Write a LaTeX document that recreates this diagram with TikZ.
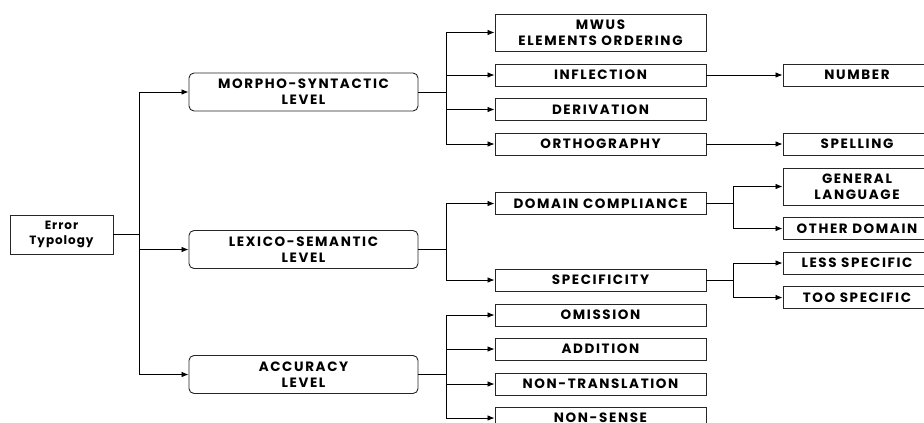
\documentclass[tikz,border=0pt]{standalone}
\usepackage{fontspec}
\setmainfont{Poppins}
\newfontfamily\capsfont{Poppins}[LetterSpace=12]
\newfontfamily\rootfont{Poppins}[LetterSpace=8]
\usetikzlibrary{arrows.meta}
\tikzset{
  box/.style={draw=black!85, line width=0.9pt, fill=white, align=center, inner sep=0pt},
  lvlbox/.style={box, rounded corners=5pt, minimum width=229pt, minimum height=38pt, font=\capsfont\bfseries\fontsize{13.5}{16}\selectfont},
  subbox/.style={box, minimum width=211pt, minimum height=22pt, font=\capsfont\bfseries\fontsize{13.5}{16}\selectfont},
  leafbox/.style={box, minimum width=148pt, minimum height=22pt, font=\capsfont\bfseries\fontsize{13.5}{16}\selectfont},
  rootbox/.style={box, minimum width=103pt, minimum height=39pt, font=\rootfont\bfseries\fontsize{12}{15}\selectfont},
  conn/.style={line width=0.8pt, -{Latex[length=7pt,width=5.5pt]}},
  plain/.style={line width=0.8pt}
}
\begin{document}
\begin{tikzpicture}[x=1pt,y=-1pt]
\useasboundingbox (0,0) rectangle (924,423);
\clip (0,0) rectangle (924,423);
% root
\node[rootbox] (err) at (61.5,234.5) {Error\\Typology};
% levels
\node[lvlbox] (morpho) at (303.5,92) {MORPHO-SYNTACTIC\\LEVEL};
\node[lvlbox] (lexico) at (303.5,249.5) {LEXICO-SEMANTIC\\LEVEL};
\node[lvlbox] (accur) at (303.5,374.5) {ACCURACY\\LEVEL};
% sub categories
\node[subbox, minimum height=37pt] (mwus) at (600.5,32.5) {MWUS\\ELEMENTS ORDERING};
\node[subbox] (infl) at (600.5,75) {INFLECTION};
\node[subbox] (deriv) at (600.5,109.5) {DERIVATION};
\node[subbox] (ortho) at (600.5,144) {ORTHOGRAPHY};
\node[subbox] (domain) at (600.5,203.5) {DOMAIN COMPLIANCE};
\node[subbox] (spec) at (600.5,280) {SPECIFICITY};
\node[subbox] (omis) at (600.5,315) {OMISSION};
\node[subbox] (addi) at (600.5,349) {ADDITION};
\node[subbox] (nontr) at (600.5,384) {NON-TRANSLATION};
\node[subbox] (nonse) at (600.5,418) {NON-SENSE};
% leaves
\node[leafbox] (number) at (857,75) {NUMBER};
\node[leafbox] (spell) at (857,144) {SPELLING};
\node[leafbox, minimum height=37pt] (genl) at (857,186.5) {GENERAL\\LANGUAGE};
\node[leafbox] (other) at (857,228.5) {OTHER DOMAIN};
\node[leafbox] (less) at (857,263) {LESS SPECIFIC};
\node[leafbox] (too) at (857,297.5) {TOO SPECIFIC};
% junctions
\coordinate (j0) at (139.5,234.5);
\coordinate (j1) at (446,92);
\coordinate (j2) at (446,249.5);
\coordinate (j3) at (446,374.5);
\coordinate (j4) at (733,203.5);
\coordinate (j5) at (733,280);
% connectors
\draw[plain] (err.east) -- (j0);
\draw[conn] (j0) |- (morpho.west);
\draw[conn] (j0) |- (lexico.west);
\draw[conn] (j0) |- (accur.west);
\draw[plain] (morpho.east) -- (j1);
\draw[conn] (j1) |- (mwus.west);
\draw[conn] (j1) |- (infl.west);
\draw[conn] (j1) |- (deriv.west);
\draw[conn] (j1) |- (ortho.west);
\draw[plain] (lexico.east) -- (j2);
\draw[conn] (j2) |- (domain.west);
\draw[conn] (j2) |- (spec.west);
\draw[plain] (accur.east) -- (j3);
\draw[conn] (j3) |- (omis.west);
\draw[conn] (j3) |- (addi.west);
\draw[conn] (j3) |- (nontr.west);
\draw[conn] (j3) |- (nonse.west);
\draw[conn] (infl.east) -- (number.west);
\draw[conn] (ortho.east) -- (spell.west);
\draw[plain] (domain.east) -- (j4);
\draw[conn] (j4) |- (genl.west);
\draw[conn] (j4) |- (other.west);
\draw[plain] (spec.east) -- (j5);
\draw[conn] (j5) |- (less.west);
\draw[conn] (j5) |- (too.west);
\end{tikzpicture}
\end{document}
